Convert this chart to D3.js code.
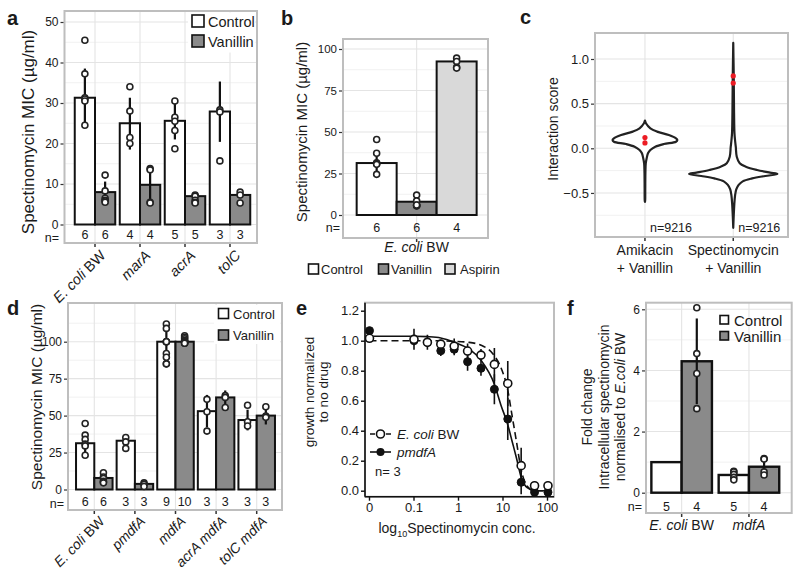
<!DOCTYPE html>
<html><head><meta charset="utf-8">
<script src="https://cdn.jsdelivr.net/npm/d3@7"></script>
<style>
body{margin:0;background:#fff;}
svg text{font-family:"Liberation Sans",Arial,Helvetica,sans-serif;fill:#1a1a1a;white-space:pre;}
</style></head><body>
<svg id="fig" width="800" height="577"></svg>
<script>
// ---------- Panel a ----------
const aGroups = ["E. coli BW", "marA", "acrA", "tolC"];
const aControl = [31.3, 25.0, 25.6, 27.9];
const aVanillin = [8.0, 9.8, 7.0, 7.3];
const aControlLo = [24.5, 18.5, 21.0, 20.4];
const aControlHi = [38.5, 31.3, 30.0, 35.3];
const aVanillinLo = [5.2, 5.3, 6.2, 6.5];
const aVanillinHi = [10.6, 14.2, 7.6, 8.1];
const aControlPts = [[45.5, 37.2, 31.3, 31.0, 30.5, 24.5], [34.0, 28.0, 21.5, 20.0], [30.5, 26.5, 25.5, 23.2, 18.7], [28.3, 27.8, 15.7]];
const aVanillinPts = [[12.2, 8.3, 6.5, 6.0, 5.8, 5.5], [13.8, 13.5, 5.5, 5.3], [7.3, 7.0, 6.0, 5.5, 5.3], [8.0, 7.3, 5.3]];
const aNControl = [6, 4, 5, 3];
const aNVanillin = [6, 4, 5, 3];
const aTicks = [0, 10, 20, 30, 40, 50];

// ---------- Panel b ----------
const bGroups = ["E. coli BW"];
const bLabels = ["Control", "Vanillin", "Aspirin"];
const bMeans = [31.3, 8.0, 92.5];
const bLo = [24.5, 5.5, 89.5];
const bHi = [38.5, 10.5, 95.5];
const bPts = [[45.5, 37.2, 31.5, 31.0, 30.5, 24.5], [12.0, 8.5, 6.0, 5.5, 5.5, 6.0], [94.5, 92.5, 89.0, 88.5]];
const bN = [6, 6, 4];
const bTicks = [0, 25, 50, 75, 100];

// ---------- Panel c ----------
const cLine1 = ["Amikacin", "Spectinomycin"];
const cLine2 = ["+ Vanillin", "+ Vanillin"];
const cAmiV = [0.31, 0.28, 0.224, 0.187, 0.149, 0.112, 0.093, 0.074, 0.048, 0.018, -0.019, -0.056, -0.112, -0.168, -0.28, -0.45, -0.58, -0.6];
const cAmiW = [0.0, 0.022, 0.12, 0.27, 0.53, 0.69, 0.72, 0.69, 0.42, 0.23, 0.12, 0.067, 0.038, 0.018, 0.01, 0.007, 0.005, 0.0];
const cSpeV = [1.18, 0.8, 0.4, 0.17, 0.09, 0.018, -0.094, -0.168, -0.206, -0.243, -0.273, -0.288, -0.31, -0.337, -0.37, -0.41, -0.46, -0.53, -0.64, -0.89];
const cSpeW = [0.0, 0.011, 0.018, 0.027, 0.04, 0.056, 0.078, 0.144, 0.28, 0.53, 0.82, 0.98, 0.71, 0.42, 0.21, 0.12, 0.067, 0.04, 0.022, 0.0];
const cAmiHits = [0.12, 0.06];
const cSpeHits = [0.81, 0.73];
const cN = [9216, 9216];
const cTicks = [-0.5, 0, 0.5, 1.0];

// ---------- Panel d ----------
const dGroups = ["E. coli BW", "pmdfA", "mdfA", "acrA mdfA", "tolC mdfA"];
const dControl = [31.3, 33.0, 100, 53.0, 47.0];
const dVanillin = [7.8, 3.8, 100, 62.3, 50.0];
const dControlLo = [25.0, 29.0, 88.0, 42.0, 40.0];
const dControlHi = [37.5, 36.0, 112.0, 64.0, 54.0];
const dVanillinLo = [4.5, 2.0, 98.5, 57.0, 44.0];
const dVanillinHi = [11.0, 5.0, 103.0, 67.0, 56.0];
const dControlPts = [[44.7, 36.8, 33.9, 30.7, 29.5, 23.2], [35.2, 32.2, 27.8], [112, 109, 100, 100, 100, 92, 89.5, 85, 85], [61.0, 52.6, 39.5], [57.0, 45.8, 43.0]];
const dVanillinPts = [[11.3, 8.5, 7.5, 5.5, 5.0, 4.5], [4.5, 3.5, 2.0], [104, 103, 102, 101, 100, 100, 100, 99.5, 99, 99], [63.5, 62.3, 55.5], [56.0, 49.7, 48.8]];
const dNControl = [6, 3, 9, 3, 3];
const dNVanillin = [6, 3, 10, 3, 3];
const dTicks = [0, 25, 50, 75, 100];

// ---------- Panel e ----------
const eConc = [0, 0.1, 0.2, 0.4, 0.8, 1.6, 3.2, 6.4, 12.8, 25.6, 51.2, 102.4];
const eWT = [1.016, 1.009, 0.989, 0.977, 0.964, 0.931, 0.904, 0.842, 0.715, 0.167, 0.033, 0.033];
const eWTErr = [0.0, 0.07, 0.05, 0.03, 0.05, 0.05, 0.04, 0.11, 0.15, 0.12, 0.03, 0.03];
const ePmdfA = [1.067, 1.0, 0.99, 0.933, 0.943, 0.86, 0.816, 0.676, 0.478, 0.056, -0.01, -0.01];
const ePmdfAErr = [0.0, 0.03, 0.03, 0.035, 0.04, 0.06, 0.05, 0.1, 0.14, 0.08, 0.01, 0.01];
const eFitConc = [0.01, 0.1, 0.2, 0.4, 0.8, 1.6, 3.2, 6.4, 9, 12.8, 16, 20, 25.6, 35, 51.2, 102.4];
const eFitWT = [1.0, 1.0, 1.0, 0.999, 0.996, 0.99, 0.97, 0.9, 0.82, 0.67, 0.5, 0.33, 0.14, 0.03, 0.0, 0.0];
const eFitPmdfA = [1.03, 1.03, 1.027, 1.018, 0.99, 0.95, 0.87, 0.71, 0.57, 0.44, 0.33, 0.22, 0.09, 0.02, 0.0, 0.0];
const eXTicks = [0, 0.1, 1, 10, 100];
const eYTicks = [0, 0.2, 0.4, 0.6, 0.8, 1.0, 1.2];

// ---------- Panel f ----------
const fGroups = ["E. coli BW", "mdfA"];
const fControl = [1.0, 0.58];
const fVanillin = [4.3, 0.85];
const fControlLo = [1.0, 0.45];
const fControlHi = [1.0, 0.70];
const fVanillinLo = [2.9, 0.58];
const fVanillinHi = [5.7, 1.12];
const fControlPts = [[], [0.70, 0.68, 0.60, 0.50, 0.42]];
const fVanillinPts = [[6.05, 4.55, 3.9, 2.75], [1.12, 1.10, 0.68, 0.58]];
const fNControl = [5, 5];
const fNVanillin = [4, 4];
const fTicks = [0, 2, 4, 6];

// ================= drawing =================
const svg = d3.select("#fig");
svg.append("rect").attr("width", 800).attr("height", 577).attr("fill", "#fff");
const C_CTRL = "#ffffff", C_VAN = "#8a8a8a", C_ASP = "#d9d9d9";
const GRID = "#e4e4e4", MINOR = "#f1f1f1", FRAME = "#bebebe", INK = "#1a1a1a";

function hline(g, x0, x1, y, col, w) {
  return g.append("line").attr("x1", x0).attr("x2", x1).attr("y1", y).attr("y2", y).attr("stroke", col).attr("stroke-width", w);
}
function vline(g, x, y0, y1, col, w) {
  return g.append("line").attr("x1", x).attr("x2", x).attr("y1", y0).attr("y2", y1).attr("stroke", col).attr("stroke-width", w);
}
function txt(g, x, y, s, size, anchor, extra) {
  const t = g.append("text").attr("x", x).attr("y", y).attr("font-size", size).attr("text-anchor", anchor || "start").text(s);
  if (extra) extra(t);
  return t;
}
function rich(sel, label) {
  if (label.endsWith(" BW")) {
    sel.append("tspan").attr("font-style", "italic").text(label.slice(0, -3));
    sel.append("tspan").text(" BW");
  } else {
    sel.append("tspan").attr("font-style", "italic").text(label);
  }
}
function letter(x, y, s) {
  svg.append("text").attr("x", x).attr("y", y).attr("font-size", 20).attr("font-weight", "bold").text(s);
}
function yAxis(g, y, x0, ticks, fmt, size) {
  const ax = g.append("g").attr("transform", `translate(${x0},0)`)
    .call(d3.axisLeft(y).tickValues(ticks).tickSize(3).tickPadding(2).tickFormat(fmt));
  ax.select(".domain").remove();
  ax.selectAll("line").attr("stroke", "#333").attr("stroke-width", 1.2);
  ax.selectAll("text").attr("font-size", size).attr("fill", INK)
    .attr("font-family", '"Liberation Sans",Arial,sans-serif');
  return ax;
}

function barPanel(o) {
  const g = svg.append("g");
  const [fx0, fy0, fx1, fy1] = o.frame;
  const x = d3.scalePoint().domain(o.groups).range(o.xRange).padding(0.5);
  const step = x.step();
  const k = o.series.length;
  const xi = d3.scaleBand().domain(d3.range(k)).range([-0.45 * step, 0.45 * step]);
  const y = d3.scaleLinear().domain(o.yDomain).range(o.yRange);
  g.append("rect").attr("x", fx0).attr("y", fy0).attr("width", fx1 - fx0).attr("height", fy1 - fy0).attr("fill", "#fff");
  o.minor.forEach(v => hline(g, fx0, fx1, y(v), MINOR, 1));
  o.ticks.forEach(v => hline(g, fx0, fx1, y(v), GRID, 1.1));
  o.groups.forEach(c => vline(g, x(c), fy0, fy1, GRID, 1.1));
  o.series.forEach((s, si) => {
    g.append("g").selectAll("rect").data(o.groups).join("rect")
      .attr("x", c => x(c) + xi(si)).attr("width", xi.bandwidth())
      .attr("y", (c, i) => y(s.means[i])).attr("height", (c, i) => y(0) - y(s.means[i]))
      .attr("fill", s.fill).attr("stroke", "#111").attr("stroke-width", o.barStroke || 2);
  });
  o.series.forEach((s, si) => {
    g.append("g").selectAll("line").data(o.groups).join("line")
      .attr("x1", c => x(c) + xi(si) + xi.bandwidth() / 2).attr("x2", c => x(c) + xi(si) + xi.bandwidth() / 2)
      .attr("y1", (c, i) => y(s.lo[i])).attr("y2", (c, i) => y(s.hi[i]))
      .attr("stroke", "#111").attr("stroke-width", 2.2);
  });
  o.series.forEach((s, si) => {
    o.groups.forEach((c, i) => {
      g.append("g").selectAll("circle").data(s.pts[i] || []).join("circle")
        .attr("cx", x(c) + xi(si) + xi.bandwidth() / 2).attr("cy", v => y(v))
        .attr("r", o.r || 3).attr("fill", "#fff").attr("stroke", "#222").attr("stroke-width", 1.6);
    });
  });
  o.series.forEach((s, si) => {
    o.groups.forEach((c, i) => {
      txt(g, x(c) + xi(si) + xi.bandwidth() / 2, o.nY, String(s.n[i]), o.nSize, "middle");
    });
  });
  txt(g, o.nLabelX, o.nLabelY || o.nY, "n=", o.nSize, "end");
  g.append("rect").attr("x", fx0).attr("y", fy0).attr("width", fx1 - fx0).attr("height", fy1 - fy0)
    .attr("fill", "none").attr("stroke", FRAME).attr("stroke-width", 2);
  yAxis(g, y, fx0 - 1, o.ticks, o.fmt || d3.format("d"), o.tickSize);
  o.groups.forEach(c => vline(g, x(c), fy1 + 1, fy1 + 4, "#333", 1.5));
  return { g, x, xi, y };
}

function legendBox(g, x, y, size, fill, label, fs, tx, ty) {
  g.append("rect").attr("x", x).attr("y", y).attr("width", size).attr("height", size)
    .attr("fill", fill).attr("stroke", "#111").attr("stroke-width", 1.6);
  txt(g, tx, ty, label, fs, "start");
}

// ----- Panel a -----
{
  const p = barPanel({
    groups: aGroups, frame: [64.5, 11, 257, 243], xRange: [72.5, 252.5],
    yDomain: [0, 50], yRange: [224.5, 22], ticks: aTicks, minor: [5, 15, 25, 35, 45],
    series: [
      { means: aControl, lo: aControlLo, hi: aControlHi, pts: aControlPts, fill: C_CTRL, n: aNControl },
      { means: aVanillin, lo: aVanillinLo, hi: aVanillinHi, pts: aVanillinPts, fill: C_VAN, n: aNVanillin }
    ],
    nY: 239, nLabelY: 242, nSize: 12.5, nLabelX: 59, tickSize: 12
  });
  const g = p.g;
  g.append("rect").attr("x", 188).attr("y", 12.5).attr("width", 67).attr("height", 40).attr("fill", "#fff");
  legendBox(g, 192, 15, 12, C_CTRL, "Control", 14.5, 208, 27);
  legendBox(g, 192, 35, 12, C_VAN, "Vanillin", 14.5, 208, 47);
  aGroups.forEach(c => {
    const t = g.append("text").attr("font-size", 14.5).attr("text-anchor", "end")
      .attr("transform", `translate(${p.x(c) + 4},${249}) rotate(-45)`).attr("dy", "0.72em");
    rich(t, c);
  });
  txt(g, 0, 0, "Spectinomycin MIC (µg/ml)", 17, "middle", t => t.attr("transform", "translate(34,132) rotate(-90)"));
  letter(7, 25, "a");
}

// ----- Panel b -----
{
  const p = barPanel({
    groups: bGroups, frame: [343, 39, 488, 238], xRange: [350, 483.3],
    yDomain: [0, 100], yRange: [215, 49], ticks: bTicks, minor: [12.5, 37.5, 62.5, 87.5],
    series: bLabels.map((l, i) => ({
      means: [bMeans[i]], lo: [bLo[i]], hi: [bHi[i]], pts: [bPts[i]],
      fill: [C_CTRL, C_VAN, C_ASP][i], n: [bN[i]]
    })),
    nY: 232, nSize: 12.5, nLabelX: 340, tickSize: 11.5
  });
  const g = p.g;
  bGroups.forEach(c => {
    const t = g.append("text").attr("x", p.x(c)).attr("y", 252).attr("font-size", 14).attr("text-anchor", "middle");
    rich(t, c);
  });
  legendBox(g, 308.5, 264, 10, C_CTRL, "Control", 13, 321, 274);
  legendBox(g, 378.5, 264, 10, C_VAN, "Vanillin", 13, 391, 274);
  legendBox(g, 445, 264, 10, C_ASP, "Aspirin", 13, 460, 274);
  txt(g, 0, 0, "Spectinomycin MIC (µg/ml)", 15, "middle", t => t.attr("transform", "translate(307,132) rotate(-90)"));
  letter(281, 25, "b");
}

// ----- Panel c -----
{
  const g = svg.append("g");
  const fx0 = 595, fy0 = 33, fx1 = 788, fy1 = 237;
  const keys = cLine1;
  const x = d3.scalePoint().domain(keys).range([600.8, 777.4]).padding(0.5);
  const y = d3.scaleLinear().domain([0, 1]).range([148.3, 59]);
  const w = d3.scaleLinear().domain([0, 1]).range([0, 45]);
  g.append("rect").attr("x", fx0).attr("y", fy0).attr("width", fx1 - fx0).attr("height", fy1 - fy0).attr("fill", "#fff");
  [-0.75, -0.25, 0.25, 0.75].forEach(v => hline(g, fx0, fx1, y(v), MINOR, 1));
  cTicks.forEach(v => hline(g, fx0, fx1, y(v), GRID, 1.1));
  keys.forEach(k => vline(g, x(k), fy0, fy1, GRID, 1.1));
  const profiles = [[cAmiV, cAmiW, cAmiHits], [cSpeV, cSpeW, cSpeHits]];
  profiles.forEach(([vs, ws, hits], i) => {
    const cx = x(keys[i]);
    const pts = vs.map((v, j) => ({ v, w: ws[j] }));
    const area = d3.area().y(d => y(d.v)).x0(d => cx - w(d.w)).x1(d => cx + w(d.w)).curve(d3.curveCatmullRom.alpha(0.5));
    g.append("path").attr("d", area(pts)).attr("fill", "#fff").attr("stroke", "#222").attr("stroke-width", 2.2).attr("stroke-linejoin", "round");
    g.selectAll(null).data(hits).join("circle").attr("cx", cx).attr("cy", v => y(v)).attr("r", 2.6).attr("fill", "#ec1c24");
    txt(g, cx + 5, 232, "n=" + cN[i], 12.5, "start");
    vline(g, cx, fy1 + 1, fy1 + 4, "#333", 1.5);
    txt(g, cx, 255, cLine1[i], 14, "middle");
    txt(g, cx, 273, cLine2[i], 14, "middle");
  });
  g.append("rect").attr("x", fx0).attr("y", fy0).attr("width", fx1 - fx0).attr("height", fy1 - fy0)
    .attr("fill", "none").attr("stroke", FRAME).attr("stroke-width", 2);
  yAxis(g, y, fx0 - 1, cTicks, d3.format(".1f"), 13);
  txt(g, 0, 0, "Interaction score", 14, "middle", t => t.attr("transform", "translate(558,129) rotate(-90)"));
  letter(520, 24, "c");
}

// ----- Panel d -----
{
  const p = barPanel({
    groups: dGroups, frame: [68, 303, 282, 510], xRange: [74, 277],
    yDomain: [0, 100], yRange: [489.5, 341.7], ticks: dTicks, minor: [12.5, 37.5, 62.5, 87.5, 112.5],
    series: [
      { means: dControl, lo: dControlLo, hi: dControlHi, pts: dControlPts, fill: C_CTRL, n: dNControl },
      { means: dVanillin, lo: dVanillinLo, hi: dVanillinHi, pts: dVanillinPts, fill: C_VAN, n: dNVanillin }
    ],
    nY: 505.5, nLabelY: 508, nSize: 12.5, nLabelX: 64, tickSize: 12
  });
  const g = p.g;
  g.append("rect").attr("x", 214).attr("y", 305).attr("width", 66).attr("height", 39).attr("fill", "#fff");
  legendBox(g, 218.5, 308.5, 10, C_CTRL, "Control", 13, 233, 318.5);
  legendBox(g, 218.5, 330, 10, C_VAN, "Vanillin", 13, 233, 340);
  dGroups.forEach(c => {
    const t = g.append("text").attr("font-size", 14).attr("text-anchor", "end")
      .attr("transform", `translate(${p.x(c) + 4},${515}) rotate(-45)`).attr("dy", "0.72em");
    rich(t, c);
  });
  txt(g, 0, 0, "Spectinomycin MIC (µg/ml)", 15.5, "middle", t => t.attr("transform", "translate(42,397) rotate(-90)"));
  letter(7, 315, "d");
}

// ----- Panel e -----
{
  const g = svg.append("g");
  const fx0 = 365, fy0 = 302.7, fx1 = 554, fy1 = 496.7;
  const x = d3.scaleLog().domain([0.01, 100]).range([369.5, 547.5]);
  const xp = c => x(c === 0 ? 0.01 : c);
  const y = d3.scaleLinear().domain([0, 1.2]).range([490.7, 310.7]);
  g.append("rect").attr("x", fx0).attr("y", fy0).attr("width", fx1 - fx0).attr("height", fy1 - fy0)
    .attr("fill", "#fff").attr("stroke", FRAME).attr("stroke-width", 2);
  g.append("clipPath").attr("id", "eclip").append("rect")
    .attr("x", fx0).attr("y", fy0).attr("width", fx1 - fx0).attr("height", fy1 - fy0);
  const inner = g.append("g").attr("clip-path", "url(#eclip)");
  const line = d3.line().x(d => x(d[0])).y(d => y(d[1])).curve(d3.curveMonotoneX);
  inner.append("path").attr("d", line(eFitConc.map((c, i) => [c, eFitPmdfA[i]])))
    .attr("fill", "none").attr("stroke", "#111").attr("stroke-width", 1.6);
  inner.append("path").attr("d", line(eFitConc.map((c, i) => [c, eFitWT[i]])))
    .attr("fill", "none").attr("stroke", "#111").attr("stroke-width", 1.6).attr("stroke-dasharray", "7,4");
  eConc.forEach((c, i) => {
    if (ePmdfAErr[i] > 0) vline(inner, xp(c), y(ePmdfA[i] - ePmdfAErr[i]), y(ePmdfA[i] + ePmdfAErr[i]), "#111", 1.6);
    if (eWTErr[i] > 0) vline(inner, xp(c), y(eWT[i] - eWTErr[i]), y(eWT[i] + eWTErr[i]), "#111", 1.6);
  });
  inner.selectAll(null).data(eConc).join("circle").attr("cx", xp).attr("cy", (c, i) => y(ePmdfA[i]))
    .attr("r", 4).attr("fill", "#111").attr("stroke", "#111").attr("stroke-width", 1);
  inner.selectAll(null).data(eConc).join("circle").attr("cx", xp).attr("cy", (c, i) => y(eWT[i]))
    .attr("r", 4).attr("fill", "#fff").attr("stroke", "#111").attr("stroke-width", 1.6);
  hline(g, fx0, fx1, fy1, "#111", 1.6);
  vline(g, fx0, fy0, fy1, "#111", 1.6);
  const ax = g.append("g").attr("transform", `translate(${fx0},0)`)
    .call(d3.axisLeft(y).tickValues(eYTicks).tickSize(4).tickPadding(2).tickFormat(d3.format(".1f")));
  ax.select(".domain").remove();
  ax.selectAll("line").attr("stroke", "#111").attr("stroke-width", 1.4);
  ax.selectAll("text").attr("font-size", 13).attr("fill", INK).attr("font-family", '"Liberation Sans",Arial,sans-serif');
  eXTicks.forEach(c => {
    vline(g, xp(c), fy1, fy1 + 4, "#111", 1.4);
    txt(g, xp(c), 512, String(c), 13, "middle");
  });
  const xt = g.append("text").attr("x", 457).attr("y", 533).attr("font-size", 14).attr("text-anchor", "middle");
  xt.append("tspan").text("log");
  xt.append("tspan").attr("font-size", 9).attr("dy", 4).text("10");
  xt.append("tspan").attr("dy", -4).text("Spectinomycin conc.");
  txt(g, 0, 0, "growth normalized", 13.5, "middle", t => t.attr("transform", "translate(314,392) rotate(-90)"));
  txt(g, 0, 0, "to no drug", 13.5, "middle", t => t.attr("transform", "translate(328,392) rotate(-90)"));
  g.append("line").attr("x1", 370).attr("x2", 391).attr("y1", 434).attr("y2", 434).attr("stroke", "#111").attr("stroke-width", 1.6).attr("stroke-dasharray", "5,3");
  g.append("circle").attr("cx", 380.5).attr("cy", 434).attr("r", 4).attr("fill", "#fff").attr("stroke", "#111").attr("stroke-width", 1.6);
  const l1 = g.append("text").attr("x", 397).attr("y", 439).attr("font-size", 13.5);
  rich(l1, "E. coli BW");
  g.append("line").attr("x1", 370).attr("x2", 391).attr("y1", 452).attr("y2", 452).attr("stroke", "#111").attr("stroke-width", 1.6);
  g.append("circle").attr("cx", 380.5).attr("cy", 452).attr("r", 4).attr("fill", "#111");
  const l2 = g.append("text").attr("x", 397).attr("y", 457).attr("font-size", 13.5);
  rich(l2, "pmdfA");
  txt(g, 375, 476, "n= 3", 13, "start");
  letter(296, 315, "e");
}

// ----- Panel f -----
{
  const p = barPanel({
    groups: fGroups, frame: [646, 302.7, 791.7, 513], xRange: [648, 782.6],
    yDomain: [0, 6], yRange: [492.7, 309.3], ticks: fTicks, minor: [1, 3, 5],
    series: [
      { means: fControl, lo: fControlLo, hi: fControlHi, pts: fControlPts, fill: C_CTRL, n: fNControl },
      { means: fVanillin, lo: fVanillinLo, hi: fVanillinHi, pts: fVanillinPts, fill: C_VAN, n: fNVanillin }
    ],
    nY: 510.5, nSize: 12.5, nLabelX: 642, tickSize: 12, barStroke: 2.4
  });
  const g = p.g;
  legendBox(g, 720, 315.5, 8.5, C_CTRL, "Control", 15, 734, 325.5);
  legendBox(g, 720, 331.5, 8.5, C_VAN, "Vanillin", 15, 734, 341.5);
  fGroups.forEach(c => {
    const t = g.append("text").attr("x", p.x(c)).attr("y", 530).attr("font-size", 14).attr("text-anchor", "middle");
    rich(t, c);
  });
  txt(g, 0, 0, "Fold change", 14, "middle", t => t.attr("transform", "translate(592,407) rotate(-90)"));
  txt(g, 0, 0, "Intracellular spectinomycin", 14, "middle", t => t.attr("transform", "translate(609,407) rotate(-90)"));
  const t3 = g.append("text").attr("font-size", 14).attr("text-anchor", "middle").attr("transform", "translate(625,407) rotate(-90)");
  t3.append("tspan").text("normalised to ");
  t3.append("tspan").attr("font-style", "italic").text("E.coli");
  t3.append("tspan").text(" BW");
  letter(567, 315, "f");
}
</script>
</body></html>
